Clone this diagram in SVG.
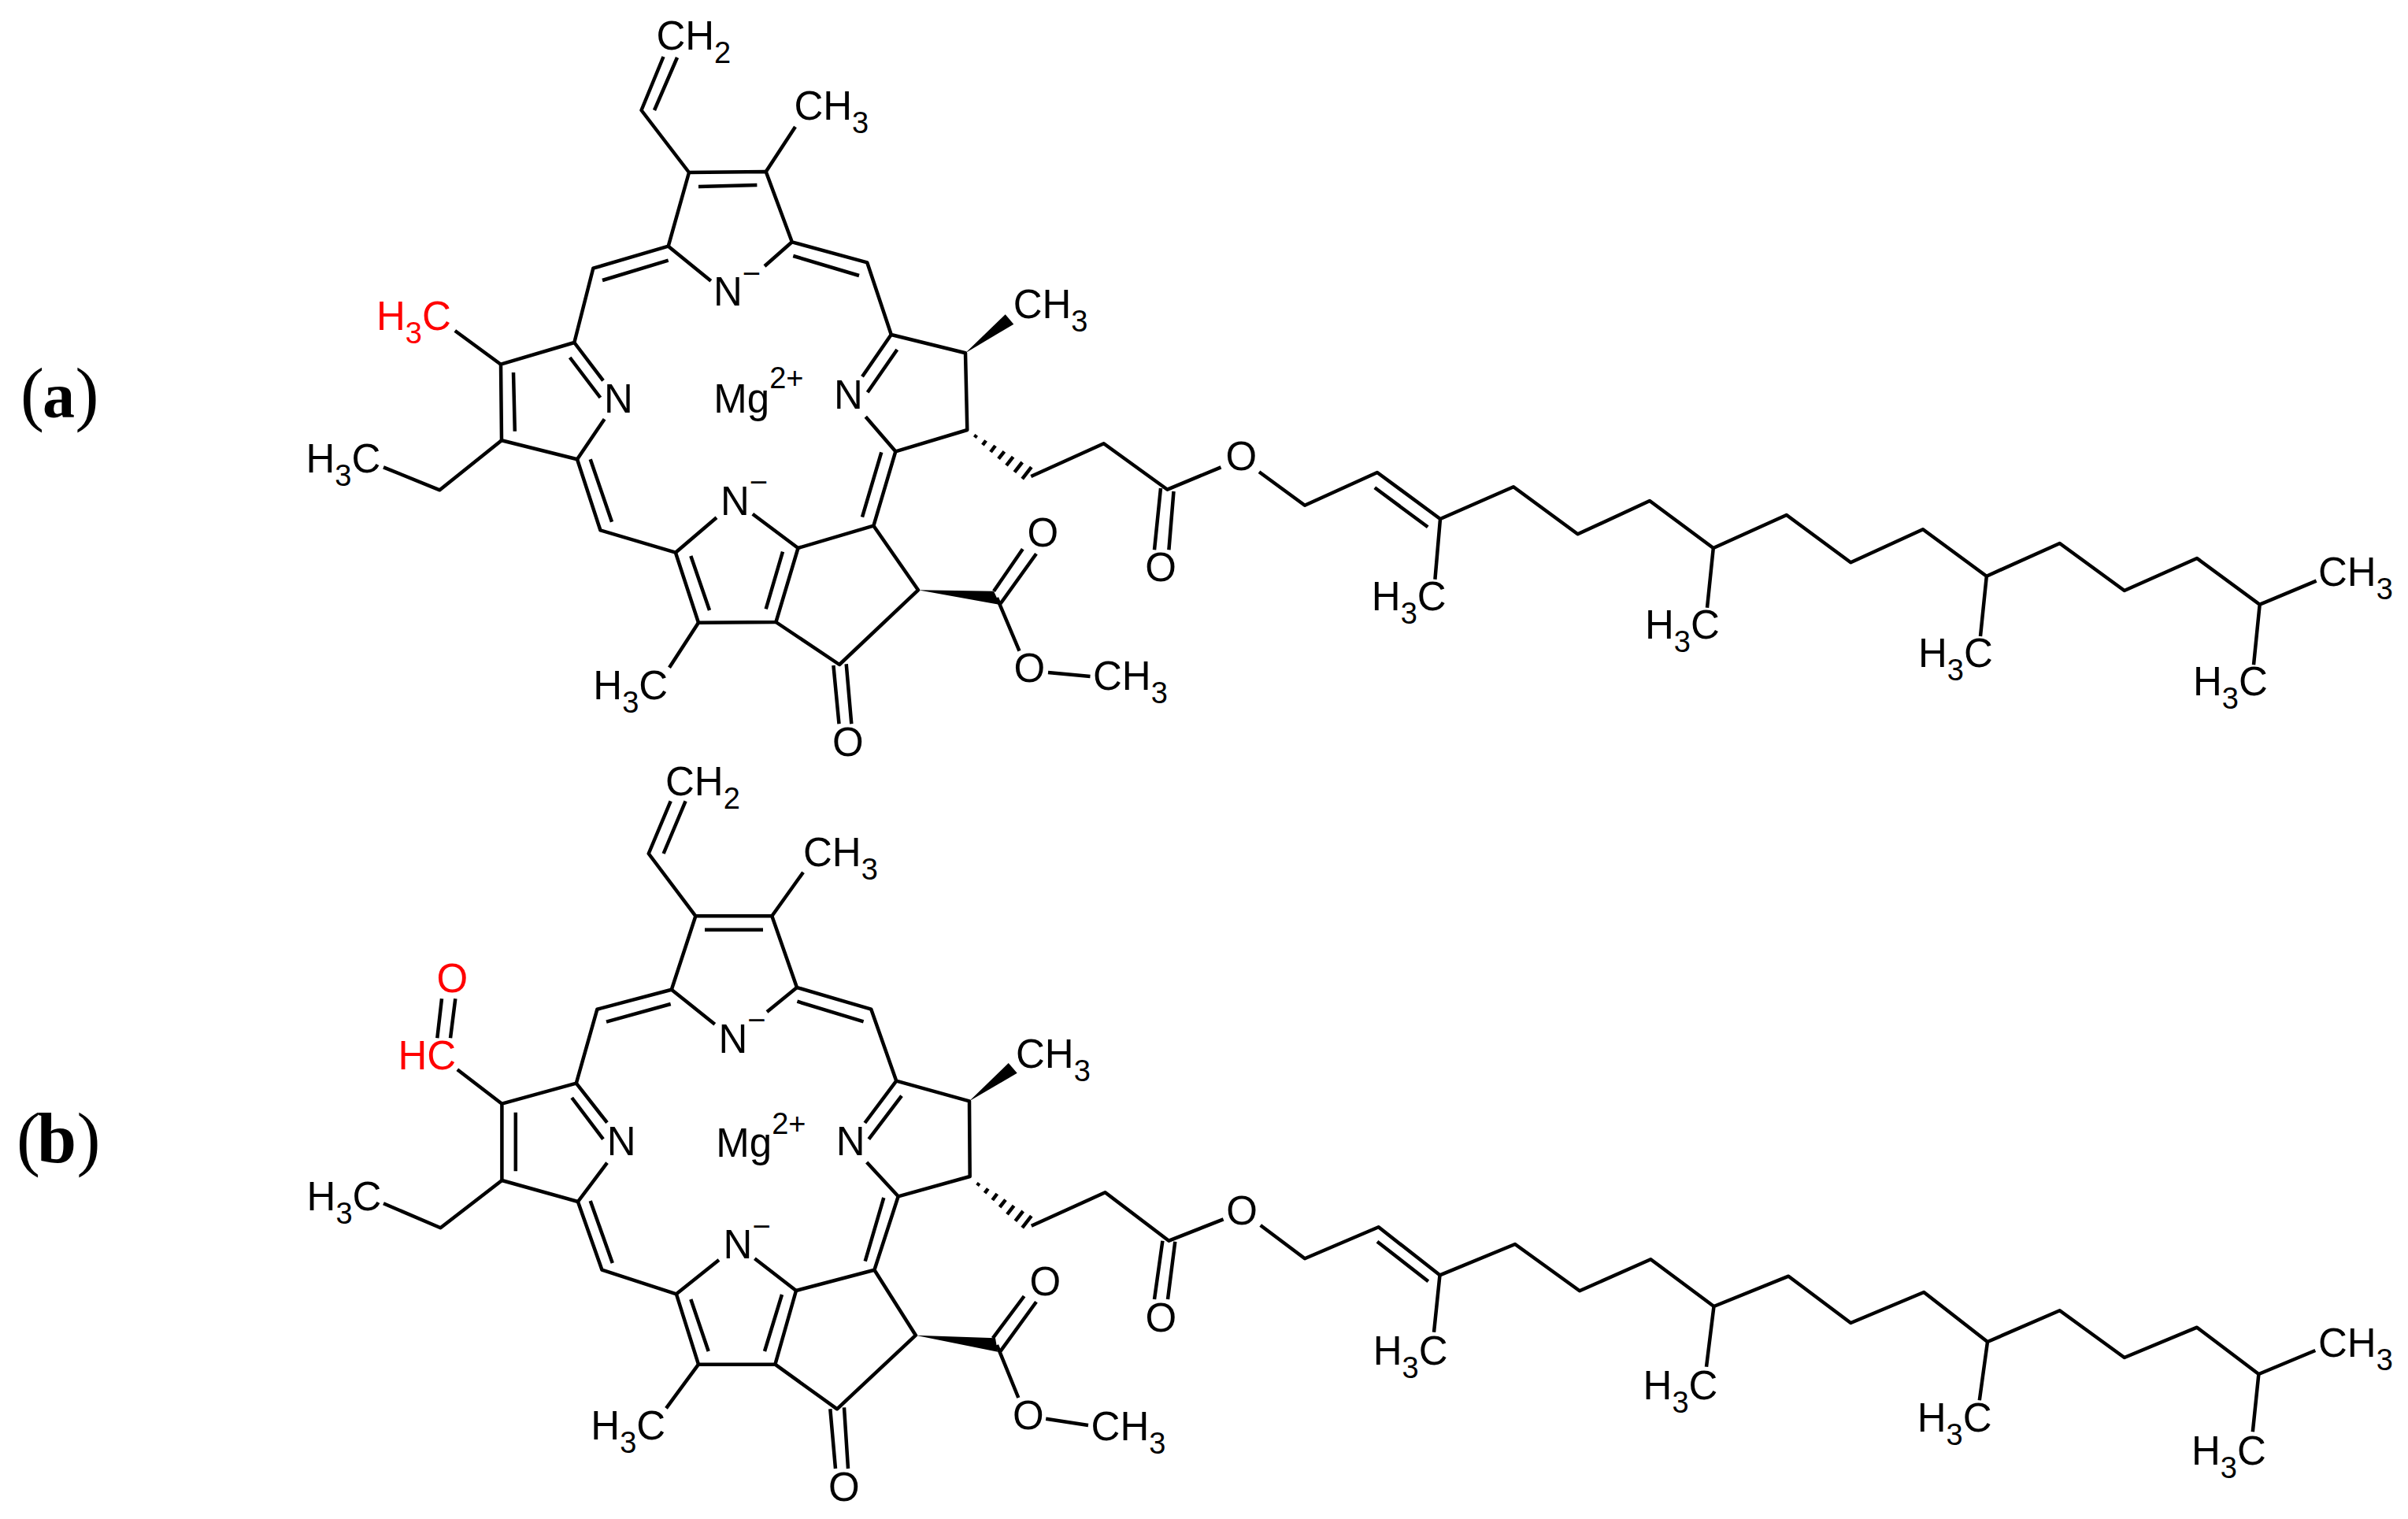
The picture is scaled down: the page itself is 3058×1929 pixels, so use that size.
<svg xmlns="http://www.w3.org/2000/svg" width="3058" height="1929" viewBox="0 0 3058 1929">
<style>
.bond{fill:none;stroke:#000;stroke-width:4.5;stroke-linejoin:round;stroke-linecap:butt}
.wedge{fill:#000;stroke:none}
text{font-family:"Liberation Sans",Arial,sans-serif;font-size:51px;fill:#000}
.red{fill:#f00}
.s{font-size:38px}
.m{font-size:40px}
text.cap{font-family:"Liberation Serif","Times New Roman",serif;font-size:90px}
.b{font-weight:bold}
.k{font-size:82px}
</style>
<rect width="3058" height="1929" fill="#fff"/>
<g id="connectors-a">
<path class="bond" d="M842.5 72L814.5 140L875 219L972.7 218L1005.8 307.3L1101.2 333.3L1131.8 425L1226 448.3L1228.3 546L1137.3 573.3L1109.4 667.7L1013.5 696L985.4 790L887 790.7L857.9 701.7L762.4 673.3L733 583.3L637 559.3L636 462.7L729.3 435L753.3 340.7L848.7 312.7L875 219"/>
<path class="bond" d="M860 73L831 140M887 237L961.4 235M972.7 218L1010 161M848.7 312.7L902.8 356.7M1005.8 307.3L971 338M765 356L848.7 330.7M1007.3 325L1091 350M577.8 420L636 462.7M729.3 435L766 483.3M723.7 454L762.4 505M652 473L653.8 547.7M733 583.3L767.6 532.3M637 559.3L558.4 622.3L487 593.3M749.7 583.3L777 662.7M857.9 701.7L910 657.3M955.8 652.7L1013.5 696M1095 656.7L1119.3 574.3M1137.3 573.3L1099.3 529.3M1131.7 425L1095 478.3M1139.3 444L1101.7 498.3M877.3 706L901 775M972.7 773.3L994 700.7M887 790.7L850 847.7M985.4 790L1066 844L1166 749.3L1109.4 667.7M1058.4 845L1065.5 919.3M1074.7 843.3L1081.3 919.3"/>
<path class="bond" d="M1262 750.7L1298.8 697.3M1270 767.3L1316 703.3M1266 759L1294.5 826.7M1331 854L1384.5 859M1309.3 605L1401.7 563.3L1482.5 621.7L1550.5 593.3M1474 620L1466 698.3M1490.5 624L1484.4 698.3M1599 599.3L1657 641.7L1749 600L1829 659L1922 618.3L2003.6 678.3L2095 636L2175.8 696L2268.8 654L2350.3 714.3L2442 672.3L2522.8 731.7L2615.7 690L2697.8 750L2790 709L2869.7 767.7L2941.6 737.7M1745.8 619.3L1813.2 669.3M1829 659L1822.4 735.7M2175.8 696L2168 771.7M2522.8 731.7L2515 808M2869.7 767.7L2862 844.3"/>
<path class="bond" d="M1237.8 555.6L1240.2 552.4M1247.9 565.1L1252.1 559.5M1258 574L1264 566M1268 582.7L1275.4 573.3M1278 591.2L1286.6 580.2M1288.4 599.6L1298.2 587M1298.2 608.2L1309.8 593.2"/>
<polygon class="wedge" points="1226,448.3 1276.7,399.3 1287.3,411.7"/>
<polygon class="wedge" points="1166,749.3 1262,750.7 1270,768"/>
</g>
<g id="connectors-b">
<path class="bond" d="M851.7 1017.3L823.7 1084L883.4 1163.3L980.3 1163.3L1012 1254L1106.3 1281.7L1138.3 1372.7L1231 1398.3L1231.7 1494L1140.7 1519.3L1110.4 1612.7L1011 1639L984.4 1732.7L887 1732.7L858.9 1643.3L764.5 1612.7L733.9 1526L637.4 1499L637.4 1401.7L731.8 1375.7L758.4 1281.7L852.8 1256.7L883.4 1163.3"/>
<path class="bond" d="M870.6 1017.3L842.6 1084M895 1180.7L969 1180.7M980.3 1163.3L1020 1107.7M852.8 1256.7L907.8 1300.7M1012 1254L974 1285M770 1297.7L851.7 1275M1012.4 1271.7L1096.6 1297.3M580.8 1358.3L637.4 1401.7M561 1268.3L555.3 1318.3M578.3 1268.3L572 1318.3M731.8 1375.7L771 1425.7M726.2 1394L766 1446.7M654.8 1412.7L654.8 1487.3M733.9 1526L771 1476.7M637.4 1499L559.4 1559.3L487 1528.3M749.7 1525L777.8 1604M858.9 1643.3L913 1600M958.4 1598.3L1011 1639M1098.7 1601.7L1122.3 1521M1140.7 1519.3L1100.7 1476M1138.3 1372.7L1098.3 1426M1145 1391.7L1103.3 1446.7M877.3 1650L899.7 1716M971 1716L993 1644M887 1732.7L846 1788.3M984.4 1732.7L1063 1789.3L1162.9 1695.7L1110.4 1612.7M1054.3 1789.3L1061 1865M1072 1787.3L1077 1865"/>
<path class="bond" d="M1260.8 1699.3L1300.6 1646M1270 1716.7L1316 1653.3M1266 1708L1293.3 1775M1328.2 1801.7L1382 1810M1309.8 1556.7L1403.5 1514.3L1484.4 1575.7L1553.6 1548.3M1476.4 1575.7L1466 1650M1492.3 1576.7L1483 1650M1600.7 1556L1657 1598.3L1750.7 1558.3L1828.5 1619.3L1924 1580L2006 1639.3L2096.3 1599.3L2176.5 1659L2271.3 1620.7L2350.3 1680L2443.2 1641L2524 1704L2615.7 1664.3L2697.8 1724L2790 1685.7L2868.4 1745L2940.3 1715M1749 1576.7L1813.8 1627.3M1828.5 1619.3L1821 1691.7M2176.5 1659L2167 1735.7M2524 1704L2513.8 1778.3M2868.4 1745L2860.8 1818.3"/>
<path class="bond" d="M1241.1 1505.6L1243.5 1502.4M1250.6 1515.1L1254.8 1509.5M1260.3 1524L1266.3 1516M1269.6 1533L1277 1523.6M1279 1542.2L1287.6 1531.2M1289.4 1550.6L1299.2 1538M1298.2 1559.2L1309.8 1544.2"/>
<polygon class="wedge" points="1231,1398.3 1280.7,1350 1291.7,1362.7"/>
<polygon class="wedge" points="1162.9,1695.7 1264,1699.3 1267,1716.7"/>
</g>
<g id="molecule-a-labels">
<g id="a-cap"><text class="cap" x="26" y="530">(<tspan class="b k" x="54">a</tspan><tspan x="95.5">)</tspan></text></g>
<g id="a-ch2"><text x="833.4" y="62.5">CH<tspan class="s" dy="17">2</tspan></text></g>
<g id="a-ch3-top"><text x="1008.4" y="151.5">CH<tspan class="s" dy="17">3</tspan></text></g>
<g id="a-h3c-red"><text class="red" x="478" y="419">H<tspan class="s" dy="17">3</tspan><tspan dy="-17">C</tspan></text></g>
<g id="a-n-top"><text x="906" y="388">N<tspan class="m" dy="-27">−</tspan></text></g>
<g id="a-n-left"><text x="767" y="524">N</text></g>
<g id="a-n-right"><text x="1059" y="519.3">N</text></g>
<g id="a-mg"><text x="906.3" y="524">Mg<tspan class="s" dy="-31">2+</tspan></text></g>
<g id="a-ch3-wedge"><text x="1286.7" y="403.5">CH<tspan class="s" dy="17">3</tspan></text></g>
<g id="a-h3c-ethyl"><text x="388.5" y="600">H<tspan class="s" dy="17">3</tspan><tspan dy="-17">C</tspan></text></g>
<g id="a-n-bottom"><text x="915" y="654">N<tspan class="m" dy="-28">−</tspan></text></g>
<g id="a-h3c-bottom"><text x="753.3" y="888">H<tspan class="s" dy="17">3</tspan><tspan dy="-17">C</tspan></text></g>
<g id="a-o-keto"><text x="1057" y="959.5">O</text></g>
<g id="a-o-ester1"><text x="1304.4" y="693.5">O</text></g>
<g id="a-o-meth"><text x="1287.6" y="866">O</text></g>
<g id="a-ch3-meth"><text x="1388" y="876">CH<tspan class="s" dy="17">3</tspan></text></g>
<g id="a-o-chain"><text x="1556.5" y="597">O</text></g>
<g id="a-o-carbonyl"><text x="1454.3" y="737.5">O</text></g>
<g id="a-h3c-1"><text x="1741.8" y="775">H<tspan class="s" dy="17">3</tspan><tspan dy="-17">C</tspan></text></g>
<g id="a-h3c-2"><text x="2089" y="811">H<tspan class="s" dy="17">3</tspan><tspan dy="-17">C</tspan></text></g>
<g id="a-h3c-3"><text x="2436" y="847">H<tspan class="s" dy="17">3</tspan><tspan dy="-17">C</tspan></text></g>
<g id="a-h3c-4"><text x="2785" y="883">H<tspan class="s" dy="17">3</tspan><tspan dy="-17">C</tspan></text></g>
<g id="a-ch3-end"><text x="2944" y="743.5">CH<tspan class="s" dy="17">3</tspan></text></g>
</g>
<g id="molecule-b-labels">
<g id="b-cap"><text class="cap" x="21" y="1476">(<tspan class="b" x="47">b</tspan><tspan x="97.5">)</tspan></text></g>
<g id="b-ch2"><text x="845" y="1009.5">CH<tspan class="s" dy="17">2</tspan></text></g>
<g id="b-ch3-top"><text x="1020" y="1099.5">CH<tspan class="s" dy="17">3</tspan></text></g>
<g id="b-o-red"><text class="red" x="554.4" y="1259.5">O</text></g>
<g id="b-hc-red"><text class="red" x="505.4" y="1358">HC</text></g>
<g id="b-n-top"><text x="912.5" y="1336.5">N<tspan class="m" dy="-28">−</tspan></text></g>
<g id="b-n-left"><text x="770.7" y="1467">N</text></g>
<g id="b-n-right"><text x="1061.7" y="1466.7">N</text></g>
<g id="b-mg"><text x="909.3" y="1469">Mg<tspan class="s" dy="-29">2+</tspan></text></g>
<g id="b-ch3-wedge"><text x="1290" y="1356">CH<tspan class="s" dy="17">3</tspan></text></g>
<g id="b-h3c-ethyl"><text x="389.6" y="1537">H<tspan class="s" dy="17">3</tspan><tspan dy="-17">C</tspan></text></g>
<g id="b-n-bottom"><text x="918.6" y="1598">N<tspan class="m" dy="-27">−</tspan></text></g>
<g id="b-h3c-bottom"><text x="750.3" y="1828">H<tspan class="s" dy="17">3</tspan><tspan dy="-17">C</tspan></text></g>
<g id="b-o-keto"><text x="1052" y="1905.5">O</text></g>
<g id="b-o-ester1"><text x="1307.4" y="1644.5">O</text></g>
<g id="b-o-meth"><text x="1286" y="1815">O</text></g>
<g id="b-ch3-meth"><text x="1385.6" y="1828.5">CH<tspan class="s" dy="17">3</tspan></text></g>
<g id="b-o-chain"><text x="1557.3" y="1554.5">O</text></g>
<g id="b-o-carbonyl"><text x="1454.4" y="1690.5">O</text></g>
<g id="b-h3c-1"><text x="1743.7" y="1732.5">H<tspan class="s" dy="17">3</tspan><tspan dy="-17">C</tspan></text></g>
<g id="b-h3c-2"><text x="2086.6" y="1776.5">H<tspan class="s" dy="17">3</tspan><tspan dy="-17">C</tspan></text></g>
<g id="b-h3c-3"><text x="2434.7" y="1818">H<tspan class="s" dy="17">3</tspan><tspan dy="-17">C</tspan></text></g>
<g id="b-h3c-4"><text x="2783" y="1860">H<tspan class="s" dy="17">3</tspan><tspan dy="-17">C</tspan></text></g>
<g id="b-ch3-end"><text x="2944" y="1723">CH<tspan class="s" dy="17">3</tspan></text></g>
</g>
</svg>
